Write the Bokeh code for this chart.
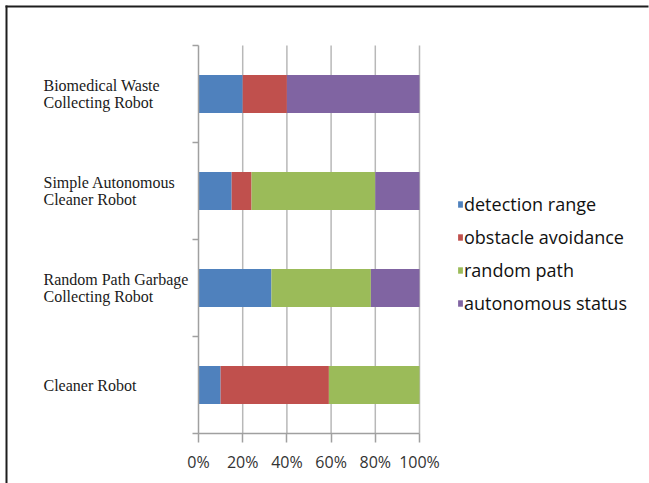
import numpy as np
from bokeh.plotting import figure
from bokeh.models import (Range1d, FixedTicker, NumeralTickFormatter, Legend,
                          LegendItem, Label, PolyAnnotation, LinearAxis)
from bokeh.embed import file_html
from bokeh.resources import INLINE

# Robots, listed top to bottom as they appear on the chart
categories = [
    "Biomedical Waste\nCollecting Robot",
    "Simple Autonomous\nCleaner Robot",
    "Random Path Garbage\nCollecting Robot",
    "Cleaner Robot",
]
series = ["detection range", "obstacle avoidance", "random path", "autonomous status"]
detection_range = [20, 15, 33, 10]
obstacle_avoidance = [20, 9, 0, 49]
random_path = [0, 56, 45, 41]
autonomous_status = [60, 20, 22, 0]
colors = ["#4F81BD", "#C0504D", "#9BBB59", "#8064A2"]
x_ticks = [0, 0.2, 0.4, 0.6, 0.8, 1.0]

W, H = 649, 483
# pixel box of the plotting area inside the canvas
PL, PR, PT, PB = 198, 419, 45, 433

n = len(categories)
y_pos = (n - 1 - np.arange(n)) + 0.5          # bottom-up slot centres

values = np.array([detection_range, obstacle_avoidance, random_path, autonomous_status], dtype=float)
shares = values / values.sum(axis=0)
data = {"y": y_pos}
for name, row in zip(series, shares):
    data[name] = row

# the frame fills the whole canvas; ranges are widened so that 0..1 / 0..n
# land on the plotting box, and the axes are pinned at the data origin
sx = (PR - PL) / 1.0
sy = (PB - PT) / n
x_range = Range1d(-PL / sx, (W - PL) / sx)
y_range = Range1d(-(H - PB) / sy, n + PT / sy)

p = figure(width=W, height=H, output_backend="svg", toolbar_location=None,
           x_range=x_range, y_range=y_range, x_axis_location=None, y_axis_location=None,
           min_border=0, min_border_left=0, min_border_right=0,
           min_border_top=0, min_border_bottom=0,
           background_fill_color="white", border_fill_color="white")
p.outline_line_color = None
p.center = []          # no default grids; gridlines are drawn below

# vertical gridlines across the category band
grid_x = x_ticks[1:]
p.segment(x0=grid_x, x1=grid_x, y0=[0] * len(grid_x), y1=[n] * len(grid_x),
          line_color="#b8b8b8", line_width=1.5)

renderers = p.hbar_stack(series, y="y", height=0.39, color=colors, source=data,
                         line_color=None)

# x axis
xaxis = LinearAxis(fixed_location=0, bounds=(0, 1))
xaxis.ticker = FixedTicker(ticks=x_ticks)
xaxis.formatter = NumeralTickFormatter(format="0%")
xaxis.axis_line_color = "#a0a0a0"
xaxis.axis_line_width = 1.5
xaxis.major_tick_line_color = "#a0a0a0"
xaxis.major_tick_line_width = 1.5
xaxis.major_tick_out = 9
xaxis.major_tick_in = 0
xaxis.minor_tick_line_color = None
xaxis.major_label_text_font = "Open Sans"
xaxis.major_label_text_font_size = "16px"
xaxis.major_label_text_color = "#333333"
xaxis.major_label_standoff = 8
p.add_layout(xaxis, "below")

# y axis: ticks at the category boundaries, names drawn separately
yaxis = LinearAxis(fixed_location=0, bounds=(0, n))
yaxis.ticker = FixedTicker(ticks=list(range(n + 1)))
yaxis.axis_line_color = "#a0a0a0"
yaxis.axis_line_width = 1.5
yaxis.major_tick_line_color = "#a0a0a0"
yaxis.major_tick_line_width = 1.5
yaxis.major_tick_out = 6
yaxis.major_tick_in = 0
yaxis.minor_tick_line_color = None
yaxis.major_label_text_alpha = 0
yaxis.major_label_text_font_size = "1px"
p.add_layout(yaxis, "left")

# category names, left aligned
for name, y in zip(categories, y_pos):
    p.add_layout(Label(x=43, x_units="screen", y=y, text=name,
                       text_font="Liberation Serif", text_font_size="16px",
                       text_color="#1a1a1a", text_align="left",
                       text_baseline="middle", text_line_height=0.95))

legend = Legend(items=[LegendItem(label=s, renderers=[r]) for s, r in zip(series, renderers)],
                location=(457, H - 315), orientation="vertical",
                glyph_width=6, glyph_height=8, label_standoff=1,
                label_height=24, spacing=9, padding=0, margin=0,
                border_line_color=None, background_fill_alpha=0,
                label_text_font="Open Sans", label_text_font_size="18px",
                label_text_color="#111111")
p.add_layout(legend, "center")

# page frame along the top and left edges, kept inside the canvas
frame_color = "#1e1e1e"
p.add_layout(PolyAnnotation(xs=[5, 7, 7, 5], ys=[0, 0, H - 5, H - 5],
                            xs_units="screen", ys_units="screen",
                            fill_color=frame_color, fill_alpha=1, line_color=None))
p.add_layout(PolyAnnotation(xs=[5, W - 1, W - 1, 5], ys=[H - 5, H - 5, H - 7, H - 7],
                            xs_units="screen", ys_units="screen",
                            fill_color=frame_color, fill_alpha=1, line_color=None))

open("out.html", "w").write(file_html(p, INLINE))
